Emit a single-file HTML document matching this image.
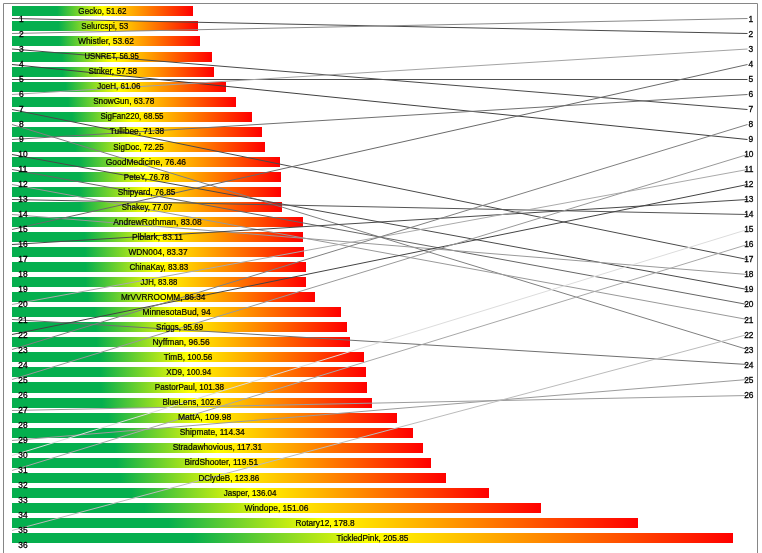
<!DOCTYPE html>
<html lang="en">
<head>
<meta charset="utf-8">
<title>Rank chart</title>
<style>
html,body{margin:0;padding:0;background:#fff;}
body{width:762px;height:553px;overflow:hidden;}
svg{display:block;}
text{font-family:"Liberation Sans",sans-serif;font-size:8.5px;fill:#000;stroke:#000;}
</style>
</head>
<body>
<svg width="762" height="553" viewBox="0 0 762 553">
<defs><linearGradient id="g" x1="0" y1="0" x2="1" y2="0"><stop offset="0" stop-color="#05af4e"/><stop offset="0.25" stop-color="#05af4e"/><stop offset="0.5" stop-color="#ffff00"/><stop offset="1" stop-color="#ff0000"/></linearGradient></defs>
<rect x="0" y="0" width="762" height="553" fill="#fff"/>
<path d="M3.5 555 V3.5 H757.5 V555" fill="none" stroke="#868686" stroke-width="1"/>
<g shape-rendering="crispEdges">
<rect x="12" y="6" width="181" height="10" fill="url(#g)"/>
<rect x="12" y="21" width="186" height="10" fill="url(#g)"/>
<rect x="12" y="36" width="188" height="10" fill="url(#g)"/>
<rect x="12" y="52" width="200" height="10" fill="url(#g)"/>
<rect x="12" y="67" width="202" height="10" fill="url(#g)"/>
<rect x="12" y="82" width="214" height="10" fill="url(#g)"/>
<rect x="12" y="97" width="224" height="10" fill="url(#g)"/>
<rect x="12" y="112" width="240" height="10" fill="url(#g)"/>
<rect x="12" y="127" width="250" height="10" fill="url(#g)"/>
<rect x="12" y="142" width="253" height="10" fill="url(#g)"/>
<rect x="12" y="157" width="268" height="10" fill="url(#g)"/>
<rect x="12" y="172" width="269" height="10" fill="url(#g)"/>
<rect x="12" y="187" width="269" height="10" fill="url(#g)"/>
<rect x="12" y="202" width="270" height="10" fill="url(#g)"/>
<rect x="12" y="217" width="291" height="10" fill="url(#g)"/>
<rect x="12" y="232" width="291" height="10" fill="url(#g)"/>
<rect x="12" y="247" width="292" height="10" fill="url(#g)"/>
<rect x="12" y="262" width="294" height="10" fill="url(#g)"/>
<rect x="12" y="277" width="294" height="10" fill="url(#g)"/>
<rect x="12" y="292" width="303" height="10" fill="url(#g)"/>
<rect x="12" y="307" width="329" height="10" fill="url(#g)"/>
<rect x="12" y="322" width="335" height="10" fill="url(#g)"/>
<rect x="12" y="337" width="338" height="10" fill="url(#g)"/>
<rect x="12" y="352" width="352" height="10" fill="url(#g)"/>
<rect x="12" y="367" width="354" height="10" fill="url(#g)"/>
<rect x="12" y="382" width="355" height="11" fill="url(#g)"/>
<rect x="12" y="398" width="360" height="10" fill="url(#g)"/>
<rect x="12" y="413" width="385" height="10" fill="url(#g)"/>
<rect x="12" y="428" width="401" height="10" fill="url(#g)"/>
<rect x="12" y="443" width="411" height="10" fill="url(#g)"/>
<rect x="12" y="458" width="419" height="10" fill="url(#g)"/>
<rect x="12" y="473" width="434" height="10" fill="url(#g)"/>
<rect x="12" y="488" width="477" height="10" fill="url(#g)"/>
<rect x="12" y="503" width="529" height="10" fill="url(#g)"/>
<rect x="12" y="518" width="626" height="10" fill="url(#g)"/>
<rect x="12" y="533" width="721" height="10" fill="url(#g)"/>
</g>
<g fill="none" stroke-width="1">
<line x1="12" y1="18.5" x2="747.5" y2="33.5" stroke="#4a4a4a"/>
<line x1="12" y1="33.5" x2="747.5" y2="18.5" stroke="#8a8a8a"/>
<line x1="12" y1="49.0" x2="747.5" y2="109.5" stroke="#4a4a4a"/>
<line x1="12" y1="64.5" x2="747.5" y2="139.5" stroke="#404040"/>
<line x1="12" y1="79.5" x2="747.5" y2="79.5" stroke="#505050"/>
<line x1="12" y1="94.5" x2="747.5" y2="49.0" stroke="#a4a4a4"/>
<line x1="12" y1="109.5" x2="747.5" y2="259.5" stroke="#4a4a4a"/>
<line x1="12" y1="124.5" x2="747.5" y2="349.5" stroke="#808080"/>
<line x1="12" y1="139.5" x2="747.5" y2="94.5" stroke="#707070"/>
<line x1="12" y1="154.5" x2="747.5" y2="289.5" stroke="#4a4a4a"/>
<line x1="12" y1="169.5" x2="747.5" y2="304.5" stroke="#666"/>
<line x1="12" y1="184.5" x2="747.5" y2="319.5" stroke="#999"/>
<line x1="12" y1="199.5" x2="747.5" y2="214.5" stroke="#555"/>
<line x1="12" y1="214.5" x2="747.5" y2="274.5" stroke="#999"/>
<line x1="12" y1="229.5" x2="747.5" y2="64.5" stroke="#6a6a6a"/>
<line x1="12" y1="244.5" x2="747.5" y2="199.5" stroke="#4a4a4a"/>
<line x1="12" y1="304.5" x2="747.5" y2="169.5" stroke="#aaa"/>
<line x1="12" y1="319.5" x2="747.5" y2="364.5" stroke="#707070"/>
<line x1="12" y1="334.5" x2="747.5" y2="184.5" stroke="#444"/>
<line x1="12" y1="349.5" x2="747.5" y2="124.5" stroke="#808080"/>
<line x1="12" y1="379.5" x2="747.5" y2="154.5" stroke="#999"/>
<line x1="12" y1="410.5" x2="747.5" y2="395.5" stroke="#9c9c9c"/>
<line x1="12" y1="440.5" x2="747.5" y2="379.5" stroke="#9c9c9c"/>
<line x1="12" y1="455.5" x2="747.5" y2="229.5" stroke="#dcdcdc"/>
<line x1="12" y1="470.5" x2="747.5" y2="244.5" stroke="#a8a8a8"/>
<line x1="12" y1="530.5" x2="747.5" y2="334.5" stroke="#bbb"/>
</g>
<g text-anchor="middle" stroke-width="0.2">
<text x="102.4" y="14" textLength="48.1" lengthAdjust="spacingAndGlyphs">Gecko, 51.62</text>
<text x="104.8" y="29" textLength="46.9" lengthAdjust="spacingAndGlyphs">Selurcspi, 53</text>
<text x="105.9" y="44" textLength="56.0" lengthAdjust="spacingAndGlyphs">Whistler, 53.62</text>
<text x="111.7" y="59" textLength="54.3" lengthAdjust="spacingAndGlyphs">USNRET, 56.95</text>
<text x="112.8" y="74" textLength="48.8" lengthAdjust="spacingAndGlyphs">Striker, 57.58</text>
<text x="118.9" y="89" textLength="43.3" lengthAdjust="spacingAndGlyphs">JoeH, 61.06</text>
<text x="123.7" y="104" textLength="61.1" lengthAdjust="spacingAndGlyphs">SnowGun, 63.78</text>
<text x="132.0" y="119" textLength="63.1" lengthAdjust="spacingAndGlyphs">SigFan220, 68.55</text>
<text x="137.0" y="134" textLength="54.3" lengthAdjust="spacingAndGlyphs">Tullibee, 71.38</text>
<text x="138.5" y="150" textLength="50.3" lengthAdjust="spacingAndGlyphs">SigDoc, 72.25</text>
<text x="145.9" y="165" textLength="80.3" lengthAdjust="spacingAndGlyphs">GoodMedicine, 76.46</text>
<text x="146.5" y="180" textLength="45.3" lengthAdjust="spacingAndGlyphs">PeteY, 76.78</text>
<text x="146.6" y="195" textLength="57.5" lengthAdjust="spacingAndGlyphs">Shipyard, 76.85</text>
<text x="147.0" y="210" textLength="50.6" lengthAdjust="spacingAndGlyphs">Shakey, 77.07</text>
<text x="157.5" y="225" textLength="88.5" lengthAdjust="spacingAndGlyphs">AndrewRothman, 83.08</text>
<text x="157.5" y="240" textLength="50.8" lengthAdjust="spacingAndGlyphs">Plblark, 83.11</text>
<text x="158.0" y="255" textLength="59.0" lengthAdjust="spacingAndGlyphs">WDN004, 83.37</text>
<text x="158.8" y="270" textLength="58.7" lengthAdjust="spacingAndGlyphs">ChinaKay, 83.83</text>
<text x="158.9" y="285" textLength="36.9" lengthAdjust="spacingAndGlyphs">JJH, 83.88</text>
<text x="163.2" y="300" textLength="84.5" lengthAdjust="spacingAndGlyphs">MrVVRROOMM, 86.34</text>
<text x="176.6" y="315" textLength="68.3" lengthAdjust="spacingAndGlyphs">MinnesotaBud, 94</text>
<text x="179.6" y="330" textLength="47.1" lengthAdjust="spacingAndGlyphs">Sriggs, 95.69</text>
<text x="181.1" y="345" textLength="57.3" lengthAdjust="spacingAndGlyphs">Nyffman, 96.56</text>
<text x="188.1" y="360" textLength="48.7" lengthAdjust="spacingAndGlyphs">TimB, 100.56</text>
<text x="188.8" y="375" textLength="45.0" lengthAdjust="spacingAndGlyphs">XD9, 100.94</text>
<text x="189.5" y="390" textLength="69.3" lengthAdjust="spacingAndGlyphs">PastorPaul, 101.38</text>
<text x="191.7" y="405" textLength="58.6" lengthAdjust="spacingAndGlyphs">BlueLens, 102.6</text>
<text x="204.6" y="420" textLength="53.3" lengthAdjust="spacingAndGlyphs">MattA, 109.98</text>
<text x="212.2" y="435" textLength="65.1" lengthAdjust="spacingAndGlyphs">Shipmate, 114.34</text>
<text x="217.4" y="450" textLength="89.5" lengthAdjust="spacingAndGlyphs">Stradawhovious, 117.31</text>
<text x="221.3" y="465" textLength="73.6" lengthAdjust="spacingAndGlyphs">BirdShooter, 119.51</text>
<text x="228.9" y="481" textLength="60.9" lengthAdjust="spacingAndGlyphs">DClydeB, 123.86</text>
<text x="250.2" y="496" textLength="52.7" lengthAdjust="spacingAndGlyphs">Jasper, 136.04</text>
<text x="276.5" y="511" textLength="64.1" lengthAdjust="spacingAndGlyphs">Windope, 151.06</text>
<text x="325.1" y="526" textLength="59.0" lengthAdjust="spacingAndGlyphs">Rotary12, 178.8</text>
<text x="372.5" y="541" textLength="71.9" lengthAdjust="spacingAndGlyphs">TickledPink, 205.85</text>
</g>
<g text-anchor="middle" stroke-width="0.3">
<text x="21.3" y="22.0" textLength="4.7" lengthAdjust="spacingAndGlyphs">1</text>
<text x="21.3" y="37.0" textLength="4.7" lengthAdjust="spacingAndGlyphs">2</text>
<text x="21.3" y="52.0" textLength="4.7" lengthAdjust="spacingAndGlyphs">3</text>
<text x="21.3" y="67.0" textLength="4.7" lengthAdjust="spacingAndGlyphs">4</text>
<text x="21.3" y="82.0" textLength="4.7" lengthAdjust="spacingAndGlyphs">5</text>
<text x="21.3" y="97.0" textLength="4.7" lengthAdjust="spacingAndGlyphs">6</text>
<text x="21.3" y="112.0" textLength="4.7" lengthAdjust="spacingAndGlyphs">7</text>
<text x="21.3" y="127.0" textLength="4.7" lengthAdjust="spacingAndGlyphs">8</text>
<text x="21.3" y="142.0" textLength="4.7" lengthAdjust="spacingAndGlyphs">9</text>
<text x="22.9" y="157.0" textLength="9.3" lengthAdjust="spacingAndGlyphs">10</text>
<text x="22.9" y="172.0" textLength="9.3" lengthAdjust="spacingAndGlyphs">11</text>
<text x="22.9" y="187.0" textLength="9.3" lengthAdjust="spacingAndGlyphs">12</text>
<text x="22.9" y="202.0" textLength="9.3" lengthAdjust="spacingAndGlyphs">13</text>
<text x="22.9" y="217.0" textLength="9.3" lengthAdjust="spacingAndGlyphs">14</text>
<text x="22.9" y="232.0" textLength="9.3" lengthAdjust="spacingAndGlyphs">15</text>
<text x="22.9" y="247.0" textLength="9.3" lengthAdjust="spacingAndGlyphs">16</text>
<text x="22.9" y="262.0" textLength="9.3" lengthAdjust="spacingAndGlyphs">17</text>
<text x="22.9" y="277.0" textLength="9.3" lengthAdjust="spacingAndGlyphs">18</text>
<text x="22.9" y="292.0" textLength="9.3" lengthAdjust="spacingAndGlyphs">19</text>
<text x="22.9" y="307.0" textLength="9.3" lengthAdjust="spacingAndGlyphs">20</text>
<text x="22.9" y="323.0" textLength="9.3" lengthAdjust="spacingAndGlyphs">21</text>
<text x="22.9" y="338.0" textLength="9.3" lengthAdjust="spacingAndGlyphs">22</text>
<text x="22.9" y="353.0" textLength="9.3" lengthAdjust="spacingAndGlyphs">23</text>
<text x="22.9" y="368.0" textLength="9.3" lengthAdjust="spacingAndGlyphs">24</text>
<text x="22.9" y="383.0" textLength="9.3" lengthAdjust="spacingAndGlyphs">25</text>
<text x="22.9" y="398.0" textLength="9.3" lengthAdjust="spacingAndGlyphs">26</text>
<text x="22.9" y="413.0" textLength="9.3" lengthAdjust="spacingAndGlyphs">27</text>
<text x="22.9" y="428.0" textLength="9.3" lengthAdjust="spacingAndGlyphs">28</text>
<text x="22.9" y="443.0" textLength="9.3" lengthAdjust="spacingAndGlyphs">29</text>
<text x="22.9" y="458.0" textLength="9.3" lengthAdjust="spacingAndGlyphs">30</text>
<text x="22.9" y="473.0" textLength="9.3" lengthAdjust="spacingAndGlyphs">31</text>
<text x="22.9" y="488.0" textLength="9.3" lengthAdjust="spacingAndGlyphs">32</text>
<text x="22.9" y="503.0" textLength="9.3" lengthAdjust="spacingAndGlyphs">33</text>
<text x="22.9" y="518.0" textLength="9.3" lengthAdjust="spacingAndGlyphs">34</text>
<text x="22.9" y="533.0" textLength="9.3" lengthAdjust="spacingAndGlyphs">35</text>
<text x="22.9" y="548.0" textLength="9.3" lengthAdjust="spacingAndGlyphs">36</text>
</g>
<g text-anchor="middle" stroke-width="0.3">
<text x="750.90" y="22.0" textLength="4.7" lengthAdjust="spacingAndGlyphs">1</text>
<text x="750.90" y="37.0" textLength="4.7" lengthAdjust="spacingAndGlyphs">2</text>
<text x="750.90" y="52.0" textLength="4.7" lengthAdjust="spacingAndGlyphs">3</text>
<text x="750.90" y="67.0" textLength="4.7" lengthAdjust="spacingAndGlyphs">4</text>
<text x="750.90" y="82.0" textLength="4.7" lengthAdjust="spacingAndGlyphs">5</text>
<text x="750.90" y="97.0" textLength="4.7" lengthAdjust="spacingAndGlyphs">6</text>
<text x="750.90" y="112.0" textLength="4.7" lengthAdjust="spacingAndGlyphs">7</text>
<text x="750.90" y="127.0" textLength="4.7" lengthAdjust="spacingAndGlyphs">8</text>
<text x="750.90" y="142.0" textLength="4.7" lengthAdjust="spacingAndGlyphs">9</text>
<text x="748.85" y="157.0" textLength="9.3" lengthAdjust="spacingAndGlyphs">10</text>
<text x="748.85" y="172.0" textLength="9.3" lengthAdjust="spacingAndGlyphs">11</text>
<text x="748.85" y="187.0" textLength="9.3" lengthAdjust="spacingAndGlyphs">12</text>
<text x="748.85" y="202.0" textLength="9.3" lengthAdjust="spacingAndGlyphs">13</text>
<text x="748.85" y="217.0" textLength="9.3" lengthAdjust="spacingAndGlyphs">14</text>
<text x="748.85" y="232.0" textLength="9.3" lengthAdjust="spacingAndGlyphs">15</text>
<text x="748.85" y="247.0" textLength="9.3" lengthAdjust="spacingAndGlyphs">16</text>
<text x="748.85" y="262.0" textLength="9.3" lengthAdjust="spacingAndGlyphs">17</text>
<text x="748.85" y="277.0" textLength="9.3" lengthAdjust="spacingAndGlyphs">18</text>
<text x="748.85" y="292.0" textLength="9.3" lengthAdjust="spacingAndGlyphs">19</text>
<text x="748.85" y="307.0" textLength="9.3" lengthAdjust="spacingAndGlyphs">20</text>
<text x="748.85" y="323.0" textLength="9.3" lengthAdjust="spacingAndGlyphs">21</text>
<text x="748.85" y="338.0" textLength="9.3" lengthAdjust="spacingAndGlyphs">22</text>
<text x="748.85" y="353.0" textLength="9.3" lengthAdjust="spacingAndGlyphs">23</text>
<text x="748.85" y="368.0" textLength="9.3" lengthAdjust="spacingAndGlyphs">24</text>
<text x="748.85" y="383.0" textLength="9.3" lengthAdjust="spacingAndGlyphs">25</text>
<text x="748.85" y="398.0" textLength="9.3" lengthAdjust="spacingAndGlyphs">26</text>
</g>
</svg>
</body>
</html>
